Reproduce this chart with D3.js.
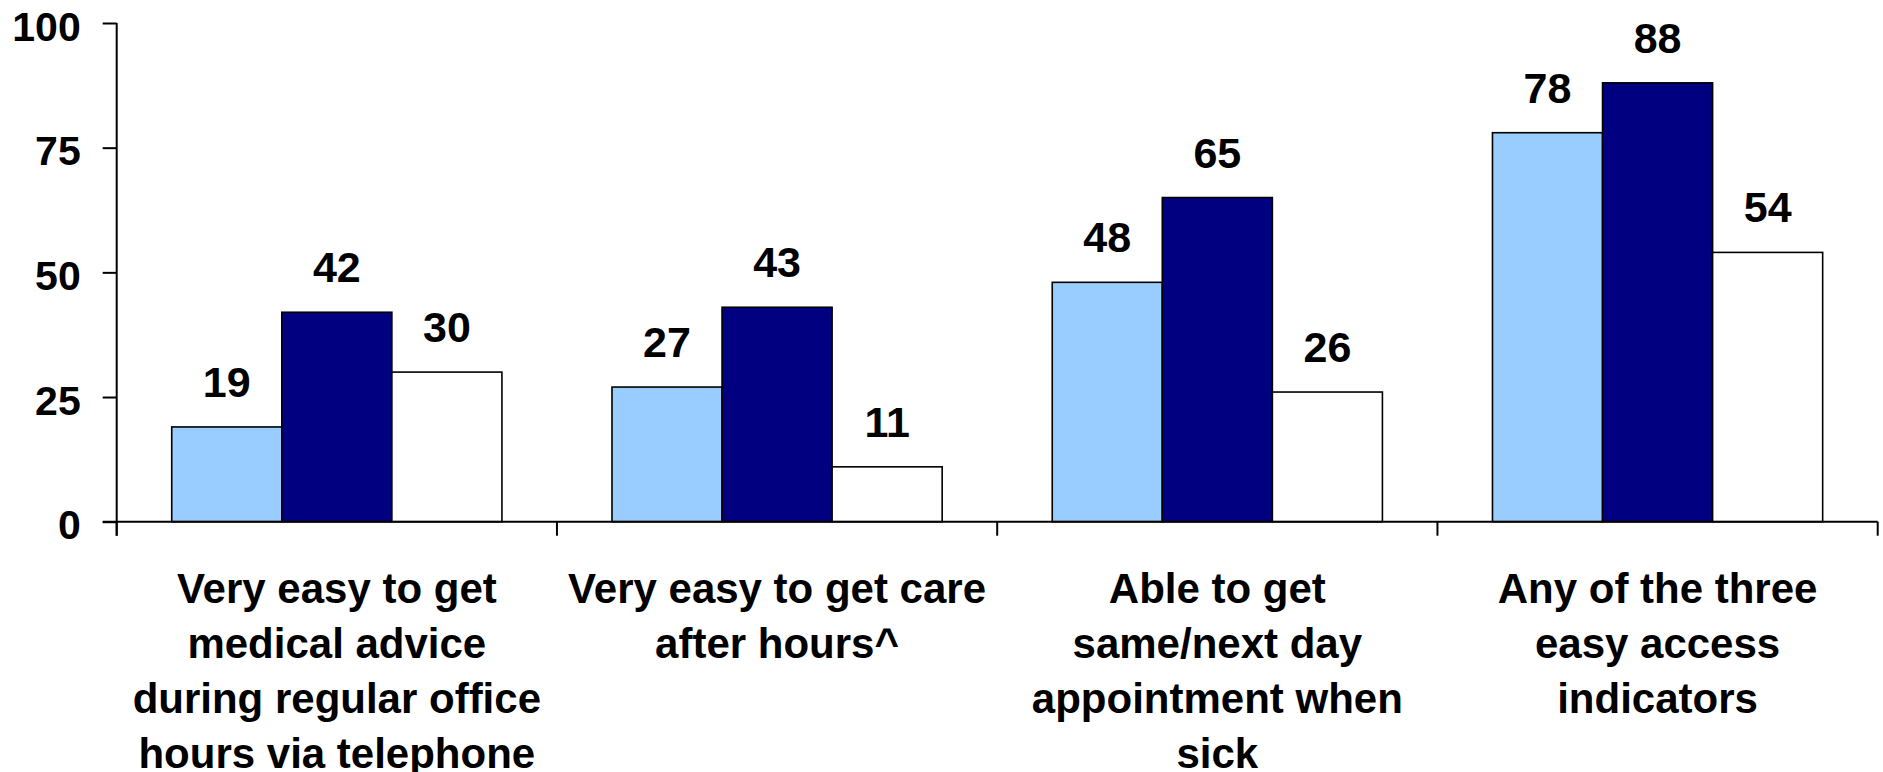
<!DOCTYPE html>
<html>
<head>
<meta charset="utf-8">
<script src="https://cdn.jsdelivr.net/npm/d3@7/dist/d3.min.js"></script>
<style>
  html, body { margin: 0; padding: 0; background: #fff; }
  svg { display: block; }
  text { font-family: "Liberation Sans", Arial, sans-serif; font-weight: bold; fill: #000; }
</style>
</head>
<body>
<svg id="chart" width="1883" height="772"></svg>
<script>
// Access indicators, percent of respondents, three groups per indicator
const categories = [
  ["Very easy to get", "medical advice", "during regular office", "hours via telephone"],
  ["Very easy to get care", "after hours^"],
  ["Able to get", "same/next day", "appointment when", "sick"],
  ["Any of the three", "easy access", "indicators"]
];
const seriesA = [19, 27, 48, 78];   // light blue
const seriesB = [42, 43, 65, 88];   // navy
const seriesC = [30, 11, 26, 54];   // white
const seriesColors = ["#99CCFF", "#000080", "#FFFFFF"];
const yTicks = [0, 25, 50, 75, 100];

const series = [seriesA, seriesB, seriesC];

const svg = d3.select("#chart");
const plotLeft = 116.7, plotRight = 1877.7, plotTop = 23, plotBottom = 521.7;

const y = d3.scaleLinear().domain([0, 100]).range([plotBottom, plotTop]);
const x0 = d3.scaleBand().domain(d3.range(categories.length)).range([plotLeft, plotRight]).padding(0);
const bw = x0.bandwidth();
const x1 = d3.scaleBand().domain(d3.range(series.length)).range([bw * 0.125, bw * 0.875]).padding(0);

// Bars
const groups = svg.append("g").selectAll("g")
  .data(d3.range(categories.length))
  .join("g")
  .attr("transform", i => `translate(${x0(i)},0)`);

groups.selectAll("rect")
  .data(i => series.map((s, k) => ({ k, v: s[i] })))
  .join("rect")
  .attr("x", d => x1(d.k))
  .attr("y", d => y(d.v))
  .attr("width", x1.bandwidth())
  .attr("height", d => y(0) - y(d.v))
  .attr("fill", d => seriesColors[d.k])
  .attr("stroke", "#000")
  .attr("stroke-width", 1.6);

// Value labels
groups.selectAll("text.val")
  .data(i => series.map((s, k) => ({ k, v: s[i] })))
  .join("text")
  .attr("class", "val")
  .attr("x", d => x1(d.k) + x1.bandwidth() / 2)
  .attr("y", d => y(d.v) - 30)
  .attr("text-anchor", "middle")
  .style("font-size", "43px")
  .text(d => d.v);

// Y axis
const yAxis = svg.append("g")
  .attr("transform", `translate(${plotLeft},0)`)
  .call(d3.axisLeft(y).tickValues(yTicks).tickSize(14).tickPadding(22));
yAxis.select(".domain").attr("stroke", "#000").attr("stroke-width", 2)
  .attr("d", `M0,${plotTop}V${plotBottom + 14}`);
yAxis.selectAll(".tick line").attr("stroke", "#000").attr("stroke-width", 2);
yAxis.selectAll(".tick text")
  .style("font-size", "41px")
  .style("font-family", "'Liberation Sans', Arial, sans-serif")
  .style("font-weight", "bold")
  .attr("dy", "0.42em");

// X axis baseline with category boundary ticks
const xg = svg.append("g");
xg.append("line")
  .attr("x1", plotLeft - 14).attr("x2", plotRight)
  .attr("y1", y(0)).attr("y2", y(0))
  .attr("stroke", "#000").attr("stroke-width", 2);
const bounds = d3.range(categories.length + 1).map(i => i < categories.length ? x0(i) : plotRight);
xg.selectAll("line.b")
  .data(bounds)
  .join("line")
  .attr("class", "b")
  .attr("x1", d => d).attr("x2", d => d)
  .attr("y1", y(0)).attr("y2", y(0) + 14)
  .attr("stroke", "#000").attr("stroke-width", 2);

// Category labels
const catText = svg.append("g").selectAll("text")
  .data(categories)
  .join("text")
  .attr("text-anchor", "middle")
  .style("font-size", "42px")
  .attr("x", (d, i) => x0(i) + bw / 2)
  .attr("y", 603);
catText.selectAll("tspan")
  .data(d => d)
  .join("tspan")
  .attr("x", function () { return d3.select(this.parentNode).attr("x"); })
  .attr("dy", (d, j) => j === 0 ? 0 : 55)
  .text(d => d);
</script>
</body>
</html>
